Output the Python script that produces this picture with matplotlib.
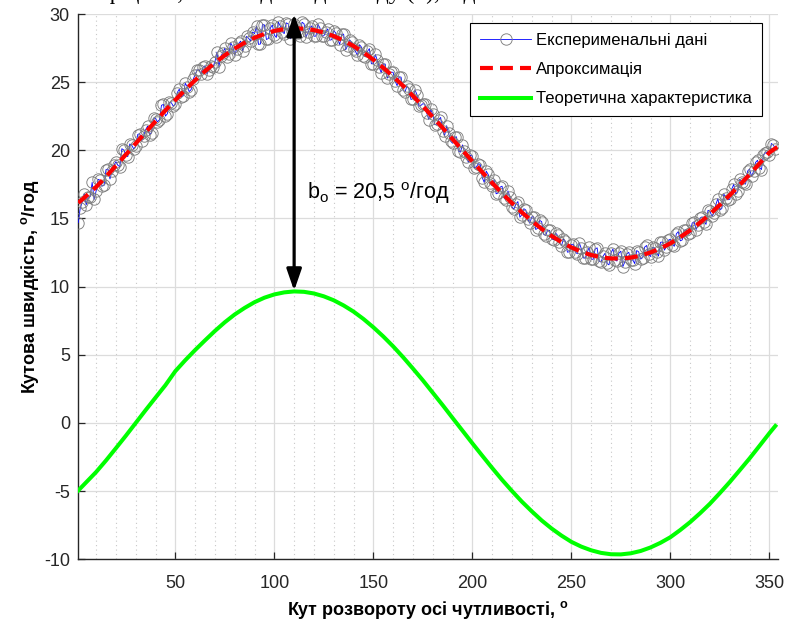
import matplotlib
matplotlib.use('Agg')
import matplotlib.pyplot as plt
from matplotlib.ticker import MultipleLocator

plt.rcParams['font.family'] = ['Liberation Sans', 'DejaVu Sans']
plt.rcParams['mathtext.fontset'] = 'custom'
plt.rcParams['mathtext.rm'] = 'Liberation Sans'
plt.rcParams['mathtext.it'] = 'Liberation Sans:italic'
plt.rcParams['mathtext.bf'] = 'Liberation Sans:bold'
plt.rcParams['axes.unicode_minus'] = False

# ---- data ----
angle_exp_odd = list(range(1, 354, 2))
speed_exp_odd = [
    14.7, 16.2, 16.0, 16.6, 16.4,
    17.87, 17.38, 18.59, 17.9, 18.91,
    18.9, 20.12, 19.65, 20.47, 20.1,
    21.16, 20.69, 21.51, 21.14, 22.37,
    22.09, 23.3, 22.51, 23.52, 23.23,
    24.24, 23.93, 24.92, 24.31, 25.2,
    25.9, 25.6, 26.2, 25.9, 26.1,
    27.2, 26.9, 27.5, 27.1, 27.6,
    27.45, 28.01, 27.67, 28.22, 28.68,
    29.1, 27.8, 29.2, 28.2, 29.2,
    28.28, 29.12, 28.56, 29.29, 28.73,
    29.05, 28.42, 29.29, 28.66, 29.13,
    28.38, 28.99, 28.4, 28.91, 28.12,
    28.61, 27.76, 28.52, 27.67, 27.92,
    27.25, 27.75, 26.95, 27.25, 26.35,
    27.03, 26.08, 26.34, 25.29, 25.74,
    25.08, 25.39, 24.41, 24.72, 23.73,
    24.44, 23.23, 23.42, 22.71, 23.0,
    21.88, 22.26, 21.43, 21.81, 20.68,
    20.96, 19.93, 20.4, 19.48, 19.65,
    18.73, 19.02, 18.0, 18.48, 17.57,
    17.86, 16.87, 17.37, 16.37, 16.58,
    15.7, 16.24, 15.28, 15.62, 14.65,
    15.11, 14.29, 14.77, 13.75, 14.13,
    13.44, 13.77, 13.0, 13.33, 12.56,
    13.12, 12.41, 12.8, 12.09, 12.88,
    12.0, 12.85, 11.8, 12.45, 11.6,
    12.77, 11.88, 12.6, 11.81, 12.52,
    11.97, 12.65, 12.02, 12.9, 12.37,
    12.88, 12.51, 13.25, 12.68, 13.41,
    13.08, 13.87, 13.36, 14.15, 13.84,
    14.66, 14.19, 15.03, 14.77, 15.6,
    15.16, 16.04, 15.62, 16.79, 16.37,
    17.16, 16.77, 17.87, 17.58, 18.48,
    18.09, 19.11, 18.74, 19.66, 19.88,
    20.5, 20.1,
]
angle_exp_even = list(range(2, 353, 2))
speed_exp_even = [
    15.77, 16.82, 16.58, 17.65, 17.01,
    17.81, 17.42, 18.63, 18.45, 19.17,
    18.8, 20.02, 19.54, 20.37, 20.3,
    21.23, 21.06, 21.78, 21.3, 22.33,
    22.25, 23.37, 22.68, 23.49, 23.39,
    24.49, 23.99, 24.68, 24.46, 25.54,
    25.9, 26.1, 25.6, 26.2, 26.5,
    26.14, 27.16, 26.87, 27.87, 26.97,
    27.84, 27.31, 28.36, 28.01, 28.56,
    27.77, 29.23, 28.13, 28.97, 28.46,
    29.41, 28.71, 29.35, 28.18, 29.25,
    28.64, 29.4, 28.3, 29.01, 28.37,
    29.25, 28.38, 28.69, 28.08, 28.78,
    28.15, 28.52, 27.37, 28.11, 27.45,
    26.96, 27.57, 26.87, 27.46, 26.35,
    26.61, 25.68, 26.33, 25.58, 25.72,
    24.74, 25.37, 24.28, 24.49, 23.79,
    24.09, 23.29, 23.38, 22.26, 22.64,
    21.92, 22.41, 21.08, 21.25, 20.52,
    20.99, 19.87, 19.95, 19.12, 19.59,
    18.77, 18.96, 17.64, 18.23, 17.41,
    16.81, 17.3, 16.51, 17.02, 15.83,
    16.06, 15.09, 15.72, 14.97, 15.12,
    14.19, 14.86, 13.84, 14.13, 13.52,
    13.94, 13.26, 13.49, 12.53, 13.08,
    12.55, 13.22, 12.11, 12.52, 12.02,
    12.75, 11.88, 12.23, 11.7, 12.47,
    11.97, 12.46, 11.47, 12.4, 11.93,
    11.69, 12.55, 12.13, 13.02, 12.21,
    12.83, 12.24, 13.28, 12.93, 13.48,
    12.96, 14.04, 13.43, 14.14, 13.94,
    14.76, 14.49, 15.12, 14.57, 15.52,
    15.39, 16.46, 15.74, 16.53, 16.41,
    17.51, 17.01, 17.71, 17.52, 18.63,
    18.45, 19.27, 18.59, 19.81, 19.64,
    20.4,
]

angle_fit = [1] + list(range(5, 351, 5)) + [354]
speed_fit = [16.15, 16.65, 17.31, 18.07, 18.87, 19.68, 20.5, 21.32, 22.13, 22.93,
             23.69, 24.44, 25.14, 25.81, 26.42, 26.97, 27.47, 27.89, 28.26, 28.54,
             28.76, 28.89, 28.95, 28.92, 28.82, 28.64, 28.38, 28.05, 27.65, 27.18,
             26.65, 26.06, 25.42, 24.73, 23.99, 23.24, 22.44, 21.65, 20.82, 20.01,
             19.19, 18.40, 17.61, 16.85, 16.13, 15.45, 14.82, 14.24, 13.72, 13.27,
             12.88, 12.56, 12.32, 12.15, 12.07, 12.06, 12.13, 12.28, 12.51, 12.80,
             13.18, 13.63, 14.14, 14.70, 15.32, 16.0, 16.71, 17.46, 18.23, 19.03,
             19.84, 20.25]

angle_theory = [1] + list(range(5, 351, 5)) + [353]
speed_theory = [-4.95, -4.35, -3.6, -2.75, -1.85, -0.94, 0.0, 0.94, 1.86, 2.77,
                3.8, 4.6, 5.35, 6.06, 6.75, 7.39, 7.96, 8.44, 8.86, 9.19,
                9.43, 9.58, 9.65, 9.62, 9.50, 9.29, 9.00, 8.62, 8.17, 7.63,
                7.02, 6.35, 5.62, 4.83, 3.99, 3.13, 2.22, 1.31, 0.37, -0.56,
                -1.49, -2.40, -3.30, -4.17, -4.99, -5.77, -6.48, -7.15, -7.74, -8.26,
                -8.72, -9.07, -9.34, -9.53, -9.63, -9.64, -9.56, -9.39, -9.13, -8.79,
                -8.38, -7.85, -7.27, -6.62, -5.92, -5.14, -4.33, -3.47, -2.60, -1.68,
                -0.75, -0.22]

labels = ['Експерименальні дані', 'Апроксимація', 'Теоретична характеристика']
arrow_x = 110
arrow_y = (9.7, 30)
b0_text = r'b$_\mathregular{o}$ = 20,5 $^\mathregular{o}$/год'

exp_pairs = sorted(zip(angle_exp_odd + angle_exp_even, speed_exp_odd + speed_exp_even))
angle_exp = [p[0] for p in exp_pairs]
speed_exp = [p[1] for p in exp_pairs]

# ---- figure ----
fig = plt.figure(figsize=(7.86, 6.28), dpi=100)
ax = fig.add_axes([0.0996, 0.1094, 0.8906, 0.8683])

ax.plot(angle_exp, speed_exp, color='#0000FF', lw=0.6, marker='o', ms=8.2,
        mfc='none', mec='#7f7f7f', mew=0.65, label=labels[0], zorder=3)
ax.plot(angle_fit, speed_fit, color='#FF0000', lw=3, dashes=(3.1, 1.7),
        label=labels[1], zorder=4)
ax.plot(angle_theory, speed_theory, color='#00FF00', lw=2.9,
        label=labels[2], zorder=4)

ax.annotate('', xy=(arrow_x, arrow_y[1]), xytext=(arrow_x, arrow_y[0]),
            arrowprops=dict(arrowstyle='<|-|>,head_length=1.3,head_width=0.45',
                            lw=2.3, color='black', shrinkA=0, shrinkB=0,
                            mutation_scale=10), zorder=5)
ax.text(116.5, 16.4, b0_text, fontsize=15.5, ha='left', va='baseline', zorder=6)

ax.set_xlim(1, 354.5)
ax.set_ylim(-10, 30)
ax.xaxis.set_major_locator(MultipleLocator(50))
ax.xaxis.set_minor_locator(MultipleLocator(10))
ax.yaxis.set_major_locator(MultipleLocator(5))

ax.grid(which='major', color='#dcdcdc', lw=0.9, zorder=0)
ax.grid(which='minor', axis='x', color='#c8c8c8', lw=0.8, ls=(0, (1, 3)), zorder=0)
ax.set_axisbelow(True)

for s in ['top', 'right']:
    ax.spines[s].set_visible(False)
for s in ['left', 'bottom']:
    ax.spines[s].set_color('#262626')
    ax.spines[s].set_linewidth(1.0)

ax.tick_params(which='major', direction='in', length=5, width=0.9,
               color='#262626', labelcolor='#262626', labelsize=13)
ax.tick_params(axis='x', which='major', pad=11)
ax.tick_params(axis='y', which='major', pad=6)
ax.tick_params(which='minor', length=0)

ax.set_xlabel(r'Кут розвороту осі чутливості, $^\mathbf{o}$', fontsize=13,
              fontweight='bold', labelpad=5)
ax.set_ylabel(r'Кутова швидкість, $^\mathbf{o}$/год', fontsize=13,
              fontweight='bold', labelpad=2)

leg = ax.legend(loc='upper right', bbox_to_anchor=(0.9767, 0.9835),
                fontsize=12, frameon=True, fancybox=False, framealpha=1,
                edgecolor='black', borderaxespad=0, handlelength=3.05,
                handletextpad=0.3, labelspacing=0.85, borderpad=0.6, numpoints=1)
leg.get_frame().set_linewidth(0.8)

fig.text(0.12, 1 + 0.5 / 628, 'ефіцієнт, який відповідає виду (3), від', fontsize=17,
         family=['Liberation Serif', 'DejaVu Serif'], ha='left', va='baseline')

fig.savefig('out.png', dpi=100)
